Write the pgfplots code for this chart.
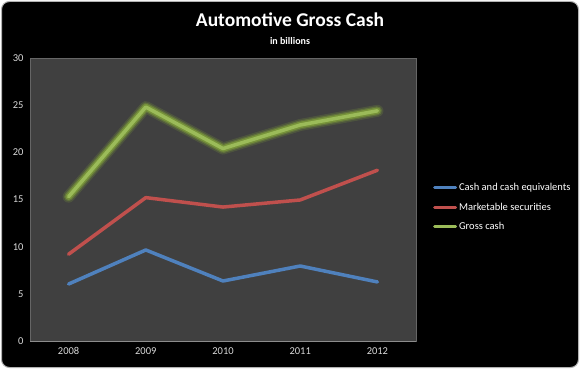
\documentclass[border=0pt]{standalone}
\usepackage{fontspec}
\setmainfont{Carlito}
\usepackage{pgfplots}
\pgfplotsset{compat=1.18}
\definecolor{cblue}{HTML}{4F81BD}
\definecolor{cred}{HTML}{C0504D}
\definecolor{cgreen}{HTML}{9BBB59}
\definecolor{cglow}{HTML}{8DB43A}
\definecolor{cbg}{HTML}{404040}
\definecolor{ctick}{HTML}{D9D9D9}
\begin{document}
\begin{tikzpicture}[x=1pt,y=1pt]
\fill[white] (0,0) rectangle (580,369);
\draw[fill=black, draw=gray!60, line width=1pt, rounded corners=8] (1.5,1.5) rectangle (578.5,367.5);
\node[text=white, font=\fontsize{19.5}{22}\selectfont\bfseries] at (290,349) {Automotive Gross Cash};
\node[text=white, font=\fontsize{10}{12}\selectfont\bfseries] at (290,328) {in billions};
\begin{axis}[
  at={(30pt,28pt)}, anchor=south west, scale only axis,
  width=386pt, height=283pt,
  xmin=-0.5, xmax=4.5, ymin=0, ymax=30,
  xtick={0,1,2,3,4}, xticklabels={2008,2009,2010,2011,2012},
  ytick={0,5,10,15,20,25,30},
  major tick length=0pt,
  axis background/.style={fill=cbg},
  axis line style={draw=black!60},
  tick label style={text=ctick, font=\fontsize{10.5}{12}\selectfont},
  /pgf/number format/assume math mode=true,
  xticklabel style={yshift=-3pt},
  yticklabel style={xshift=-3pt},
  legend style={at={(1.036,0.473)}, anchor=west, draw=none, fill=none,
    text=white, font=\fontsize{10.5}{12}\selectfont, row sep=7pt,
    /tikz/every even column/.append style={column sep=0pt}},
  legend cell align=left,
  legend image code/.code={\draw[#1, line width=3pt] (0pt,0pt) -- (21pt,0pt);},
  every axis plot/.append style={line width=3.5pt, line cap=round, line join=round},
  after end axis/.code={\draw[black!45, line width=1pt] (rel axis cs:0,0) -- (rel axis cs:1,0);},
]
\addplot[cblue] coordinates {(0,6.04) (1,9.65) (2,6.36) (3,7.95) (4,6.26)};
\addlegendentry{Cash and cash equivalents}
\addplot[cred] coordinates {(0,9.2) (1,15.2) (2,14.2) (3,14.95) (4,18.1)};
\addlegendentry{Marketable securities}
\addplot[cglow, line width=12pt, opacity=0.18, forget plot] coordinates {(0,15.3) (1,24.8) (2,20.4) (3,22.9) (4,24.4)};
\addplot[cglow, line width=9pt, opacity=0.3, forget plot] coordinates {(0,15.3) (1,24.8) (2,20.4) (3,22.9) (4,24.4)};
\addplot[cglow, line width=6.5pt, opacity=0.5, forget plot] coordinates {(0,15.3) (1,24.8) (2,20.4) (3,22.9) (4,24.4)};
\addplot[cgreen] coordinates {(0,15.3) (1,24.8) (2,20.4) (3,22.9) (4,24.4)};
\addlegendentry{Gross cash}
\end{axis}
\end{tikzpicture}
\end{document}
